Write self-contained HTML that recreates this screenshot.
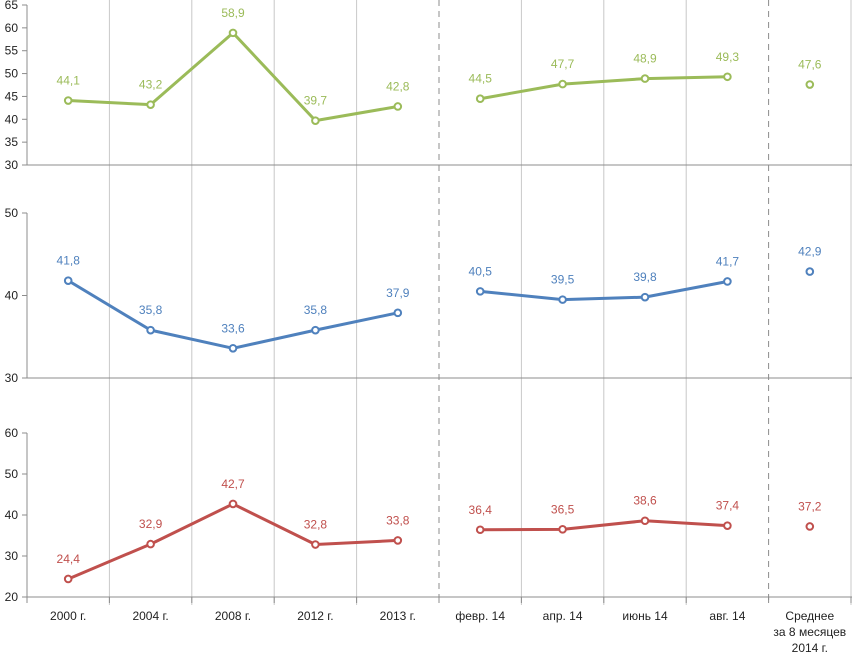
<!DOCTYPE html>
<html><head><meta charset="utf-8"><style>
body{margin:0;background:#fff}
svg{display:block;font-family:"Liberation Sans","DejaVu Sans",sans-serif}
</style></head><body>
<svg id="chart" width="852" height="654" viewBox="0 0 852 654" xmlns="http://www.w3.org/2000/svg"></svg>
<script>
const categories=["2000 г.","2004 г.","2008 г.","2012 г.","2013 г.","февр. 14","апр. 14","июнь 14","авг. 14","Среднее|за 8 месяцев|2014 г."];
const greenValues=[44.1,43.2,58.9,39.7,42.8,44.5,47.7,48.9,49.3,47.6];
const blueValues=[41.8,35.8,33.6,35.8,37.9,40.5,39.5,39.8,41.7,42.9];
const redValues=[24.4,32.9,42.7,32.8,33.8,36.4,36.5,38.6,37.4,37.2];
const topTicks=[30,35,40,45,50,55,60,65];
const midTicks=[30,40,50];
const botTicks=[20,30,40,50,60];
const segments=[[0,4],[5,8],[9,9]];

const svg=document.getElementById('chart');
const NS='http://www.w3.org/2000/svg';
function mk(tag,attrs,parent){const e=document.createElementNS(NS,tag);for(const k in attrs)e.setAttribute(k,attrs[k]);(parent||svg).appendChild(e);return e;}
const x0=27,step=82.4;
const xc=i=>x0+step*(i+0.5);
const xb=i=>x0+step*i;

for(let i=1;i<=10;i++){
  const dashed=(i===5||i===9);
  const l=mk('line',{x1:xb(i),x2:xb(i),y1:0,y2:605,stroke:dashed?'#8c8c8c':'#c8c8c8','stroke-width':1,'stroke-dasharray':dashed?'6,5':'none'});
  
  
}

const panels=[
 {name:'green',vals:greenValues,ticks:topTicks,min:30,max:65,yMin:165,yMax:5,color:'#9bbb59'},
 {name:'blue',vals:blueValues,ticks:midTicks,min:30,max:50,yMin:378,yMax:213,color:'#4f81bd'},
 {name:'red',vals:redValues,ticks:botTicks,min:20,max:60,yMin:597,yMax:433,color:'#c0504d'}
];
panels.forEach(p=>{
  const y=v=>p.yMin-(v-p.min)/(p.max-p.min)*(p.yMin-p.yMax);
  const g=mk('g',{});
  
  
  const ax=mk('line',{x1:x0,x2:x0,y1:p.yMax,y2:p.yMin,stroke:'#8c8c8c'},g);
  
  
  const bx=mk('line',{x1:x0-5,x2:852,y1:p.yMin,y2:p.yMin,stroke:'#8c8c8c'},g);
  
  
  p.ticks.forEach(t=>{
    mk('line',{x1:x0-5,x2:x0,y1:y(t),y2:y(t),stroke:'#8c8c8c'},g);
    const tx=mk('text',{x:x0-9,y:y(t)+4,'text-anchor':'end','font-size':12,fill:'#222'},g);
    tx.textContent=t;
    
    
  });
  segments.forEach(([a,b])=>{
    if(b>a){
      let d='';
      for(let i=a;i<=b;i++)d+=(i===a?'M':'L')+xc(i)+','+y(p.vals[i]);
      const pa=mk('path',{d:d,fill:'none',stroke:p.color,'stroke-width':3,'stroke-linejoin':'round'},g);
      
      
    }
  });
  p.vals.forEach((v,i)=>{
    const c=mk('circle',{cx:xc(i),cy:y(v),r:3.3,fill:'#fff',stroke:p.color,'stroke-width':2},g);
    
    
    const t=mk('text',{x:xc(i),y:y(v)-16,'text-anchor':'middle','font-size':12,fill:p.color},g);
    t.textContent=v.toFixed(1).replace('.',',');
    
    
  });
});
for(let i=0;i<=10;i++){mk('line',{x1:xb(i),x2:xb(i),y1:597,y2:603,stroke:'#8c8c8c'});}
categories.forEach((c,i)=>{
  c.split('|').forEach((s,k)=>{
    const t=mk('text',{x:xc(i),y:620+k*16,'text-anchor':'middle','font-size':12,fill:'#222'});
    t.textContent=s;
    
    
  });
});
</script>
</body></html>
